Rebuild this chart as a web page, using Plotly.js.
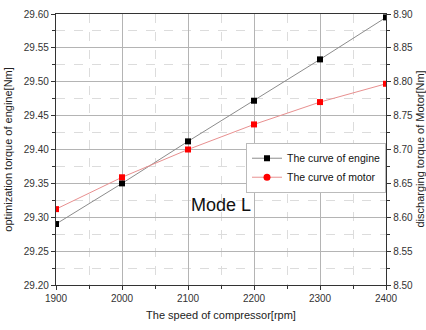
<!DOCTYPE html>
<html>
<head>
<meta charset="utf-8">
<script src="https://cdn.plot.ly/plotly-3.0.1.min.js"></script>
<style>
  html, body { margin: 0; padding: 0; background: #fff; }
  #chart { width: 426px; height: 330px; }
</style>
</head>
<body>
<div id="chart"></div>
<script>
// Compressor speed (rpm)
const speed = [1900, 2000, 2100, 2200, 2300, 2400];
// Optimization torque of engine (Nm), left axis
const engineTorque = [29.29, 29.35, 29.412, 29.472, 29.533, 29.595];
// Discharging torque of motor (Nm), right axis
const motorTorque = [8.612, 8.659, 8.700, 8.737, 8.770, 8.797];

const xTicks = [1900, 2000, 2100, 2200, 2300, 2400];
const leftTicks = [29.20, 29.25, 29.30, 29.35, 29.40, 29.45, 29.50, 29.55, 29.60];
const rightTicks = [8.50, 8.55, 8.60, 8.65, 8.70, 8.75, 8.80, 8.85, 8.90];

const font = 'Liberation Sans, Arial, sans-serif';
const tickFont = {family: font, size: 10, color: '#333'};
const titleFont = {family: font, size: 11, color: '#222'};

const traces = [
  {
    x: speed, y: engineTorque, yaxis: 'y', mode: 'lines+markers',
    line: {color: '#8c8c8c', width: 1},
    marker: {symbol: 'square', size: 6, color: '#000'},
    showlegend: false
  },
  {
    x: speed, y: motorTorque, yaxis: 'y2', mode: 'lines+markers',
    line: {color: '#e89090', width: 1},
    marker: {symbol: 'square', size: 6, color: '#f00'},
    showlegend: false
  },
  // legend entries
  {
    x: [null], y: [null], yaxis: 'y', mode: 'lines+markers',
    name: 'The curve of engine',
    line: {color: '#8c8c8c', width: 1},
    marker: {symbol: 'square', size: 6, color: '#000'}
  },
  {
    x: [null], y: [null], yaxis: 'y2', mode: 'lines+markers',
    name: 'The curve of motor',
    line: {color: '#e89090', width: 1},
    marker: {symbol: 'circle', size: 7, color: '#f00'}
  }
];

const layout = {
  width: 426, height: 330,
  margin: {l: 56, r: 40, t: 14, b: 45},
  paper_bgcolor: '#fff', plot_bgcolor: '#fff',
  showlegend: true,
  font: {family: font, color: '#222'},
  xaxis: {
    range: [1900, 2400], tickvals: xTicks, ticktext: xTicks.map(String),
    tickfont: tickFont, ticks: 'outside', ticklen: 4, tickcolor: '#333',
    showline: true, linecolor: '#333', linewidth: 1.2, mirror: true,
    showgrid: true, gridcolor: '#b4b4b4', gridwidth: 1,
    minor: {dtick: 50, tick0: 1900, showgrid: true, gridcolor: '#dcdcdc', griddash: 'dash', ticks: 'outside', ticklen: 3, tickcolor: '#333'},
    zeroline: false,
    title: {text: 'The speed of compressor[rpm]', font: titleFont, standoff: 8}
  },
  yaxis: {
    range: [29.20, 29.60], tickvals: leftTicks, ticktext: leftTicks.map(v => v.toFixed(2)),
    tickfont: tickFont, ticks: 'outside', ticklen: 4, tickcolor: '#333',
    showline: true, linecolor: '#333', linewidth: 1.2,
    showgrid: true, gridcolor: '#b4b4b4', gridwidth: 1,
    minor: {dtick: 0.025, tick0: 29.2, showgrid: true, gridcolor: '#dcdcdc', griddash: 'dash', ticks: 'outside', ticklen: 3, tickcolor: '#333'},
    zeroline: false
  },
  yaxis2: {
    overlaying: 'y', side: 'right',
    range: [8.50, 8.90], tickvals: rightTicks, ticktext: rightTicks.map(v => v.toFixed(2)),
    tickfont: tickFont, ticks: 'outside', ticklen: 4, tickcolor: '#333',
    showline: true, linecolor: '#333', linewidth: 1.2,
    showgrid: false, zeroline: false,
    minor: {dtick: 0.025, tick0: 8.5, ticks: 'outside', ticklen: 3, tickcolor: '#333'}
  },
  legend: {
    x: 1, xanchor: 'right', y: 0.525, yanchor: 'top',
    bgcolor: '#fff', bordercolor: '#bbb', borderwidth: 1,
    font: {family: font, size: 10.5, color: '#111'},
    tracegroupgap: 0, itemwidth: 30
  },
  annotations: [
    {
      text: 'Mode L', xref: 'paper', yref: 'paper', x: 0.402, y: 0.295,
      xanchor: 'left', yanchor: 'middle', showarrow: false,
      font: {family: font, size: 18, color: '#111'}
    },
    {
      // left axis title
      text: 'optimization torque of engine[Nm]', xref: 'paper', yref: 'paper',
      x: -0.148, y: 0.5, xanchor: 'center', yanchor: 'middle', textangle: -90,
      showarrow: false, font: titleFont
    },
    {
      // right axis title
      text: 'discharging torque of Motor[Nm]', xref: 'paper', yref: 'paper',
      x: 1.1, y: 0.5, xanchor: 'center', yanchor: 'middle', textangle: -90,
      showarrow: false, font: titleFont
    }
  ]
};

Plotly.newPlot('chart', traces, layout, {displayModeBar: false, staticPlot: true});
</script>
</body>
</html>
